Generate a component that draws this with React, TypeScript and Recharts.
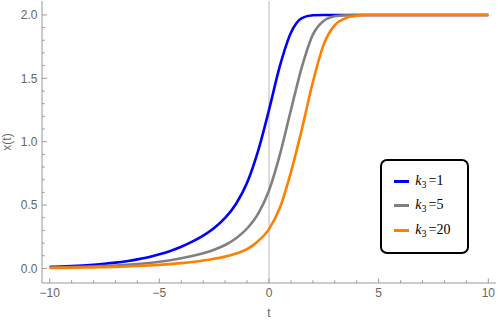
import { LineChart, Line, XAxis, YAxis, ReferenceLine, Legend } from "recharts";

// time grid, step 0.5
const T = [
  -10, -9.5, -9, -8.5, -8, -7.5, -7, -6.5, -6, -5.5, -5, -4.5, -4, -3.5, -3, -2.5, -2, -1.5, -1, -0.5,
  0, 0.5, 1, 1.5, 2, 2.5, 3, 3.5, 4, 4.5, 5, 5.5, 6, 6.5, 7, 7.5, 8, 8.5, 9, 9.5, 10,
];

// x(t) for k3 = 1
const K1 = [
  0.012, 0.015, 0.0188, 0.0234, 0.0293, 0.0366, 0.0457, 0.057, 0.0713, 0.089, 0.111, 0.138, 0.171, 0.211, 0.259, 0.319, 0.398, 0.51, 0.675, 0.925,
  1.25, 1.6, 1.86, 1.975, 1.997, 2, 2, 2, 2, 2, 2, 2, 2, 2, 2, 2, 2, 2, 2, 2, 2,
];
// k3 = 5
const K5 = [
  0.0068, 0.0084, 0.0103, 0.0126, 0.0155, 0.019, 0.023, 0.0285, 0.035, 0.043, 0.053, 0.065, 0.08, 0.098, 0.12, 0.148, 0.185, 0.238, 0.315, 0.43,
  0.615, 0.9, 1.25, 1.59, 1.845, 1.955, 1.99, 1.998, 2, 2, 2, 2, 2, 2, 2, 2, 2, 2, 2, 2, 2,
];
// k3 = 20
const K20 = [
  0.0038, 0.0046, 0.0056, 0.0068, 0.0083, 0.0101, 0.0124, 0.0152, 0.0186, 0.023, 0.028, 0.034, 0.042, 0.051, 0.062, 0.076, 0.093, 0.117, 0.152, 0.215,
  0.31, 0.48, 0.76, 1.1, 1.47, 1.77, 1.92, 1.975, 1.993, 1.999, 2, 2, 2, 2, 2, 2, 2, 2, 2, 2, 2,
];

const K_VALUES = ["1", "5", "20"];
const COLORS = ["#0000ff", "#808080", "#ff8000"];

const X_TICKS = [-10, -9, -8, -7, -6, -5, -4, -3, -2, -1, 0, 1, 2, 3, 4, 5, 6, 7, 8, 9, 10];
const Y_TICKS = [0, 0.1, 0.2, 0.3, 0.4, 0.5, 0.6, 0.7, 0.8, 0.9, 1, 1.1, 1.2, 1.3, 1.4, 1.5, 1.6, 1.7, 1.8, 1.9, 2];

const data = T.map((t, i) => ({ t, k1: K1[i], k5: K5[i], k20: K20[i] }));

const FRAME = "#999999";
const LABEL = "#666666";
const FONT = "'Liberation Sans', Arial, sans-serif";

function fmtX(v: number) {
  return v < 0 ? `\u2212${Math.abs(v)}` : String(v);
}

function isMajorY(v: number) {
  return Math.abs(v * 2 - Math.round(v * 2)) < 1e-6;
}

function XTick(props: any) {
  const { x, y, payload, side } = props;
  const v = payload.value as number;
  const major = v % 5 === 0;
  const len = major ? 4.5 : 2.7;
  const top = side === "top";
  return (
    <g>
      <line x1={x} x2={x} y1={y} y2={top ? y + len : y - len} stroke={FRAME} strokeWidth={1} />
      {!top && major && (
        <text x={x} y={y + 14} textAnchor="middle" fill={LABEL} fontSize={12} fontFamily={FONT}>
          {fmtX(v)}
        </text>
      )}
    </g>
  );
}

function YTick(props: any) {
  const { x, y, payload, side } = props;
  const v = payload.value as number;
  const major = isMajorY(v);
  const len = major ? 5 : 2.7;
  const right = side === "right";
  return (
    <g>
      <line x1={x} x2={right ? x - len : x + len} y1={y} y2={y} stroke={FRAME} strokeWidth={1} />
      {!right && major && (
        <text x={x - 4.5} y={y + 4.2} textAnchor="end" fill={LABEL} fontSize={12} fontFamily={FONT}>
          {v.toFixed(1)}
        </text>
      )}
    </g>
  );
}

// legend drawn from the same k / colour lists so the order stays 1, 5, 20
function LegendBox() {
  return (
    <div
      style={{
        width: 89,
        height: 95,
        boxSizing: "border-box",
        border: "2.7px solid #000",
        borderRadius: 7,
        background: "#fff",
        paddingTop: 8,
        fontFamily: "'Liberation Serif', 'Times New Roman', serif",
        fontSize: 14,
        color: "#000",
      }}
    >
      {K_VALUES.map((k, i) => (
        <div key={k} style={{ height: 24.5, display: "flex", alignItems: "center" }}>
          <span style={{ display: "inline-block", marginLeft: 12.3, width: 15, height: 2.6, background: COLORS[i] }} />
          <span style={{ marginLeft: 6, whiteSpace: "nowrap", lineHeight: "14px" }}>
            <i>k</i>
            <span style={{ fontSize: 10, position: "relative", top: 3 }}>3</span>
            <span style={{ marginLeft: 2 }}>={k}</span>
          </span>
        </div>
      ))}
    </div>
  );
}

export default function App() {
  return (
    <div style={{ position: "absolute", left: 0, top: 0 }}>
      <LineChart width={498} height={321} data={data} margin={{ top: 1, right: 2, bottom: 0, left: 0 }}>
        <XAxis
          dataKey="t"
          type="number"
          domain={[-10.35, 10.35]}
          allowDataOverflow
          ticks={X_TICKS}
          interval={0}
          height={38}
          tickSize={0}
          tickMargin={0}
          tickLine={false}
          axisLine={{ stroke: FRAME }}
          tick={<XTick side="bottom" />}
          label={{ value: "t", position: "insideBottom", offset: 4, fill: LABEL, fontSize: 12, fontFamily: FONT }}
        />
        <XAxis
          xAxisId="top"
          orientation="top"
          dataKey="t"
          type="number"
          domain={[-10.35, 10.35]}
          allowDataOverflow
          ticks={X_TICKS}
          interval={0}
          height={0}
          tickSize={0}
          tickMargin={0}
          tickLine={false}
          axisLine={{ stroke: FRAME }}
          tick={<XTick side="top" />}
        />
        <YAxis
          type="number"
          domain={[-0.115, 2.11]}
          allowDataOverflow
          ticks={Y_TICKS}
          interval={0}
          width={42}
          tickSize={0}
          tickMargin={0}
          tickLine={false}
          axisLine={{ stroke: FRAME }}
          tick={<YTick side="left" />}
          label={{
            content: (p: any) => {
              const vb = p.viewBox || { y: 1, height: 282 };
              const cy = vb.y + vb.height / 2;
              return (
                <text
                  x={7}
                  y={cy}
                  transform={`rotate(-90 7 ${cy})`}
                  textAnchor="middle"
                  dominantBaseline="central"
                  fill={LABEL}
                  fontSize={12}
                  fontFamily={FONT}
                >
                  x(t)
                </text>
              );
            },
          }}
        />
        <YAxis
          yAxisId="right"
          orientation="right"
          type="number"
          domain={[-0.115, 2.11]}
          allowDataOverflow
          ticks={Y_TICKS}
          interval={0}
          width={0}
          tickSize={0}
          tickMargin={0}
          tickLine={false}
          axisLine={{ stroke: FRAME }}
          tick={<YTick side="right" />}
        />
        <ReferenceLine x={0} stroke="#b8b8b8" strokeWidth={1} />
        <Line type="monotone" dataKey="k1" name={K_VALUES[0]} stroke={COLORS[0]} strokeWidth={2.6} dot={false} isAnimationActive={false} />
        <Line type="monotone" dataKey="k5" name={K_VALUES[1]} stroke={COLORS[1]} strokeWidth={2.6} dot={false} isAnimationActive={false} />
        <Line type="monotone" dataKey="k20" name={K_VALUES[2]} stroke={COLORS[2]} strokeWidth={2.6} dot={false} isAnimationActive={false} />
        <Legend
          layout="vertical"
          align="center"
          verticalAlign="middle"
          content={<LegendBox />}
          wrapperStyle={{ left: 380, top: 159, width: 89, height: 95 }}
        />
      </LineChart>
    </div>
  );
}
